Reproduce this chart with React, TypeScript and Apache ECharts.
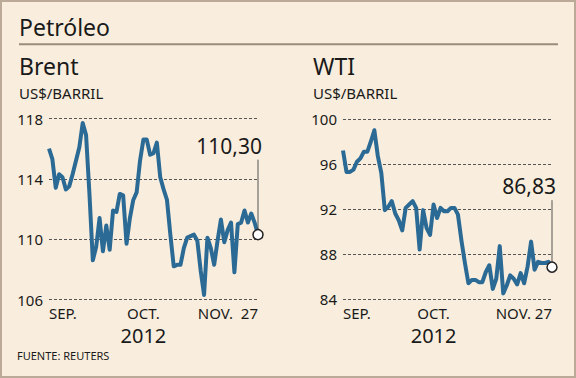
import React, { useEffect, useRef } from "react";
import * as echarts from "echarts";

const TITLE = "Petróleo";
const SOURCE = "FUENTE: REUTERS";
const UNIT = "US$/BARRIL";
const YEAR = "2012";
const BRENT_NAME = "Brent";
const WTI_NAME = "WTI";

const brentValues = [
  116.0, 115.3, 113.4, 114.3, 114.1, 113.3, 113.5, 114.3, 115.2, 116.1,
  117.7, 116.9, 113.0, 108.6, 109.5, 111.4, 109.2, 110.9, 109.3, 111.9,
  111.8, 113.0, 112.9, 109.7, 111.4, 112.6, 113.1, 115.2, 116.6, 116.6,
  115.6, 115.7, 116.4, 114.1, 113.3, 112.6, 110.3, 108.2, 108.3, 108.3,
  109.4, 110.1, 110.2, 110.3, 109.9, 107.9, 106.3, 110.1, 109.4, 108.3,
  109.9, 111.3, 109.8, 110.6, 111.1, 107.8, 111.0, 111.1, 111.9, 111.1,
  111.7, 111.1, 110.3,
];
const wtiValues = [
  97.2, 95.3, 95.3, 95.5, 96.2, 96.5, 97.1, 97.1, 98.0, 99.0,
  96.7, 95.2, 91.9, 92.2, 92.7, 91.6, 91.0, 90.1, 92.1, 92.4,
  92.7, 92.1, 88.4, 91.9, 90.3, 89.7, 92.4, 91.2, 92.1, 91.8,
  91.8, 92.1, 92.1, 91.5, 89.2, 87.2, 85.4, 85.7, 85.7, 85.5,
  85.5, 86.4, 87.0, 84.9, 85.8, 88.7, 84.5, 85.2, 86.1, 85.8,
  85.3, 86.3, 85.4, 86.9, 89.1, 86.6, 87.3, 87.2, 87.2, 87.3,
  86.83,
];

const brentYTicks = [106, 110, 114, 118];
const wtiYTicks = [84, 88, 92, 96, 100];
const brentXTickIndex = [0, 28, 62];
const brentXTickLabels = ["SEP.", "OCT.", "NOV.  27"];
const wtiXTickIndex = [0, 26, 60];
const wtiXTickLabels = ["SEP.", "OCT.", "NOV. 27"];

const FONT = "Noto Sans";
const INK = "#1a1a1a";
const LINE = "#2c6a96";
const BG = "#f9eedd";

function fmt(v: number) {
  return v.toFixed(2).replace(".", ",");
}

function xAxis(gridIndex: number, values: number[], idx: number[], labels: string[]) {
  return {
    gridIndex,
    type: "category",
    boundaryGap: false,
    data: values.map((_, i) => String(i)),
    axisLine: { show: false },
    axisTick: { show: false },
    splitLine: { show: false },
    axisLabel: {
      interval: 0,
      margin: 3,
      alignMinLabel: "left",
      alignMaxLabel: "right",
      formatter: (_v: string, i: number) => {
        const k = idx.indexOf(i);
        if (k < 0) return "";
        return k === 1 ? `{m|${labels[k]}}\n{y|${YEAR}}` : `{m|${labels[k]}}`;
      },
      rich: {
        m: { fontFamily: FONT, fontSize: 15, lineHeight: 21, color: INK },
        y: { fontFamily: FONT, fontSize: 20, lineHeight: 24, color: INK },
      },
    },
  };
}

function yAxis(gridIndex: number, ticks: number[]) {
  return {
    gridIndex,
    type: "value",
    min: ticks[0],
    max: ticks[ticks.length - 1],
    interval: 2,
    axisLine: { show: false },
    axisTick: { show: false, customValues: ticks },
    axisLabel: {
      customValues: ticks,
      margin: 6,
      fontFamily: FONT,
      fontSize: 15,
      color: INK,
    },
    splitLine: {
      show: true,
      lineStyle: { color: "#555", width: 1, type: [3, 2] },
    },
  };
}

function series(i: number, values: number[]) {
  const last = values.length - 1;
  return {
    type: "line",
    xAxisIndex: i,
    yAxisIndex: i,
    data: values,
    symbol: "none",
    lineStyle: { color: LINE, width: 4, join: "round" },
    markPoint: {
      symbol: "circle",
      symbolSize: 10,
      itemStyle: { color: "#fff", borderColor: "#222", borderWidth: 1.5 },
      label: { show: false },
      data: [{ coord: [String(last), values[last]] }],
    },
  };
}

function txt(id: string, text: string, x: number, y: number, size: number, align = "left") {
  return {
    id,
    type: "text",
    z: 10,
    style: {
      text,
      x,
      y,
      fill: INK,
      font: `${size}px "${FONT}"`,
      align,
      textAlign: align,
      verticalAlign: "middle",
      textVerticalAlign: "middle",
    },
  };
}

export default function App() {
  const ref = useRef<HTMLDivElement>(null);
  useEffect(() => {
    document.body.style.margin = "0";
    const chart = echarts.init(ref.current!, null, { renderer: "svg" });
    chart.setOption({
      animation: false,
      backgroundColor: BG,
      grid: [
        { left: 49, top: 118.5, width: 209, height: 181 },
        { left: 343, top: 119, width: 209, height: 180 },
      ],
      xAxis: [
        xAxis(0, brentValues, brentXTickIndex, brentXTickLabels),
        xAxis(1, wtiValues, wtiXTickIndex, wtiXTickLabels),
      ],
      yAxis: [yAxis(0, brentYTicks), yAxis(1, wtiYTicks)],
      series: [series(0, brentValues), series(1, wtiValues)],
      graphic: [
        {
          id: "border",
          type: "rect",
          shape: { x: 1, y: 1, width: 574, height: 376 },
          style: { fill: "none", stroke: "#bcaa98", lineWidth: 2 },
        },
        {
          id: "sep",
          type: "line",
          shape: { x1: 19, y1: 44.3, x2: 558, y2: 44.3 },
          style: { stroke: "#9b8b7b", lineWidth: 2 },
        },
        txt("title", TITLE, 19, 27.3, 23),
        txt("brent", BRENT_NAME, 19, 66.3, 23),
        txt("wti", WTI_NAME, 313, 66.3, 23),
        txt("u1", UNIT, 19, 93.3, 15),
        txt("u2", UNIT, 313, 93.3, 15),
        txt("src", SOURCE, 17, 355, 11),
      ],
    });

    const callouts: any[] = [];
    [
      { s: 0, values: brentValues, lift: 81 },
      { s: 1, values: wtiValues, lift: 73 },
    ].forEach(({ s, values, lift }) => {
      const last = values.length - 1;
      const p = chart.convertToPixel({ seriesIndex: s }, [last, values[last]]) as number[];
      callouts.push({
        id: `cl${s}`,
        type: "line",
        z: 5,
        shape: { x1: p[0], y1: p[1] - 5, x2: p[0], y2: p[1] - lift + 6 },
        style: { stroke: "#555", lineWidth: 1 },
      });
      callouts.push(txt(`ct${s}`, fmt(values[last]), p[0] + 4, p[1] - lift - 8, 21, "right"));
    });
    chart.setOption({ graphic: callouts });

    return () => chart.dispose();
  }, []);
  return <div ref={ref} style={{ width: 576, height: 378 }} />;
}
